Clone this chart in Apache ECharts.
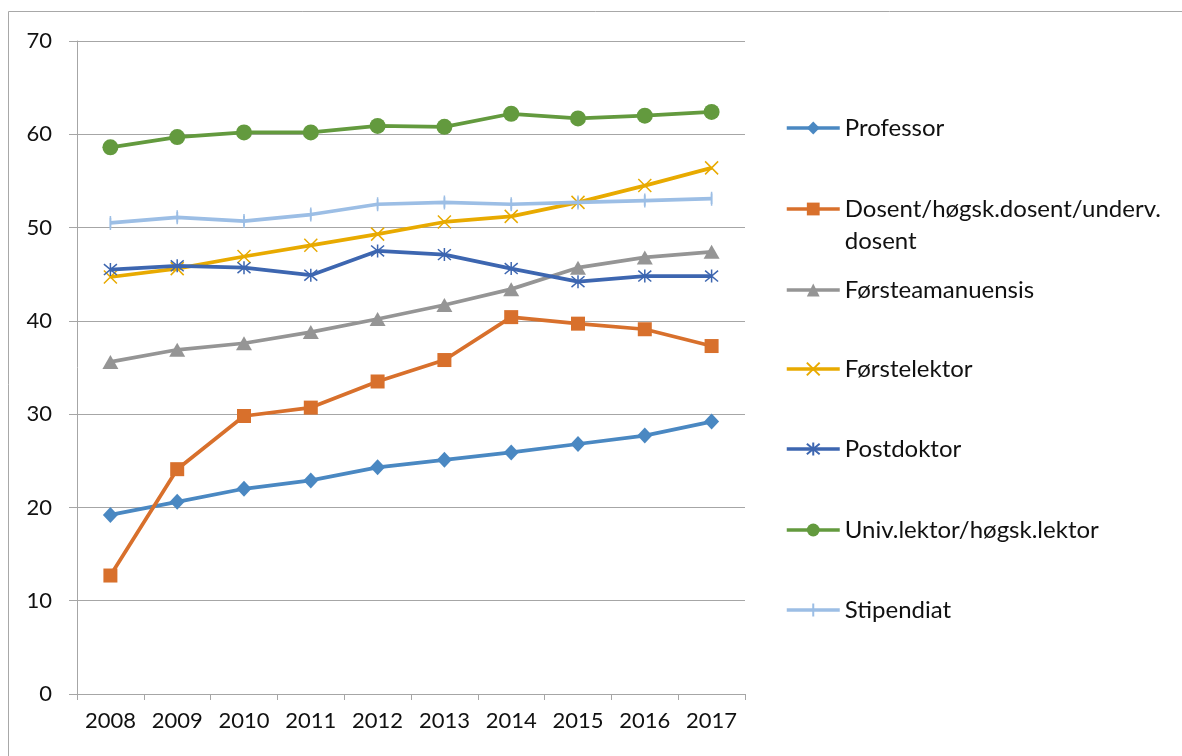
<!DOCTYPE html>
<html>
<head>
<meta charset="utf-8">
<script src="https://cdn.jsdelivr.net/npm/echarts@6/dist/echarts.min.js"></script>
<style>
html,body{margin:0;padding:0;background:#fff;}
#chart{width:1182px;height:756px;}
</style>
</head>
<body>
<div id="chart"></div>
<script>
const years = ['2008','2009','2010','2011','2012','2013','2014','2015','2016','2017'];
const yTicks = [0,10,20,30,40,50,60,70];
const professor = [19.2, 20.6, 22.0, 22.9, 24.3, 25.1, 25.9, 26.8, 27.7, 29.2];
const dosent = [12.7, 24.1, 29.8, 30.7, 33.5, 35.8, 40.4, 39.7, 39.1, 37.3];
const forsteamanuensis = [35.6, 36.9, 37.6, 38.8, 40.2, 41.7, 43.4, 45.7, 46.8, 47.4];
const forstelektor = [44.7, 45.6, 46.9, 48.1, 49.3, 50.6, 51.2, 52.7, 54.5, 56.4];
const postdoktor = [45.5, 45.9, 45.7, 44.9, 47.5, 47.1, 45.6, 44.2, 44.8, 44.8];
const univlektor = [58.6, 59.7, 60.2, 60.2, 60.9, 60.8, 62.2, 61.7, 62.0, 62.4];
const stipendiat = [50.5, 51.1, 50.7, 51.4, 52.5, 52.7, 52.5, 52.7, 52.9, 53.1];

const names = ['Professor','Dosent/høgsk.dosent/underv. dosent','Førsteamanuensis','Førstelektor','Postdoktor','Univ.lektor/høgsk.lektor','Stipendiat'];
const values = [professor, dosent, forsteamanuensis, forstelektor, postdoktor, univlektor, stipendiat];
const colors = ['#4A88C2','#D8702C','#959595','#E8AA00','#3D66B0','#639A3E','#9CBEE5'];

const FONT = 'Lato';
const xPath = 'path://M0,0L10,10M10,0L0,10';
const starPath = 'path://M0,0L10,10M10,0L0,10M5,-1L5,11';
const plusPath = 'path://M5,0L5,10M0,5L10,5';

const symbols = [
  {symbol:'diamond', size:[15,16], stroke:false},
  {symbol:'rect', size:14, stroke:false},
  {symbol:'triangle', size:[16,14], stroke:false},
  {symbol:xPath, size:13, stroke:true},
  {symbol:starPath, size:13, stroke:true},
  {symbol:'circle', size:16, stroke:false},
  {symbol:plusPath, size:[2,14], stroke:true}
];

const series = names.map((n,i)=>{
  const s = symbols[i];
  return {
    name:n, type:'line', data:values[i],
    symbol:s.symbol, symbolSize:s.size, showAllSymbol:true,
    lineStyle:{color:colors[i], width:3.75},
    itemStyle: s.stroke ? {color:'none', borderColor:colors[i], borderWidth:1.5} : {color:colors[i], borderWidth:0},
    emphasis:{disabled:true},
    z: 2+i
  };
});

const FS = 24;
const centers = [128, 209, 290, 369, 449, 530, 610];
const legends = names.map((n,i)=>{
  const isDosent = i===1;
  const lh = isDosent ? 32 : 28;
  const boxH = isDosent ? 3*lh : lh;
  return {
    data:[n], orient:'vertical', left:785, top: centers[i] - boxH/2,
    padding:0, itemWidth:53, itemHeight:16, itemGap:5, selectedMode:false,
    lineStyle:{width:3.5},
    formatter: isDosent ? function(){ return '{e| }\n{t|Dosent/høgsk.dosent/underv.}\n{t|dosent}'; } : '{name}',
    textStyle:{fontFamily:FONT, fontSize:FS, color:'#111', lineHeight:lh,
      rich:{ e:{fontFamily:FONT, fontSize:FS, lineHeight:32}, t:{fontFamily:FONT, fontSize:FS, color:'#111', lineHeight:32} }
    }
  };
});

const chart = echarts.init(document.getElementById('chart'), null, {renderer:'canvas'});
chart.setOption({
  animation:false,
  backgroundColor:'#fff',
  graphic:[{type:'rect', shape:{x:8.5, y:11.5, width:1300, height:900}, style:{fill:'none', stroke:'#A8A8A8', lineWidth:1}, silent:true, z:-1}],
  grid:{left:77, right:437, top:41, bottom:62, containLabel:false},
  legend: legends,
  xAxis:{
    type:'category', data:years, boundaryGap:true,
    axisLine:{lineStyle:{color:'#A6A6A6', width:1}},
    axisTick:{show:true, length:6, lineStyle:{color:'#A6A6A6'}},
    axisLabel:{fontFamily:FONT, fontSize:22, color:'#111', margin:16},
    splitLine:{show:false}
  },
  yAxis:{
    type:'value', min:0, max:70, interval:10,
    axisLine:{show:true, lineStyle:{color:'#A6A6A6', width:1}},
    axisTick:{show:true, length:8, lineStyle:{color:'#A6A6A6'}},
    axisLabel:{fontFamily:FONT, fontSize:22, color:'#111', margin:25,
      formatter:function(v){ return yTicks.indexOf(v)>=0 ? String(v) : ''; }},
    splitLine:{show:true, lineStyle:{color:'#A6A6A6', width:1}}
  },
  series: series
});
</script>
</body>
</html>
